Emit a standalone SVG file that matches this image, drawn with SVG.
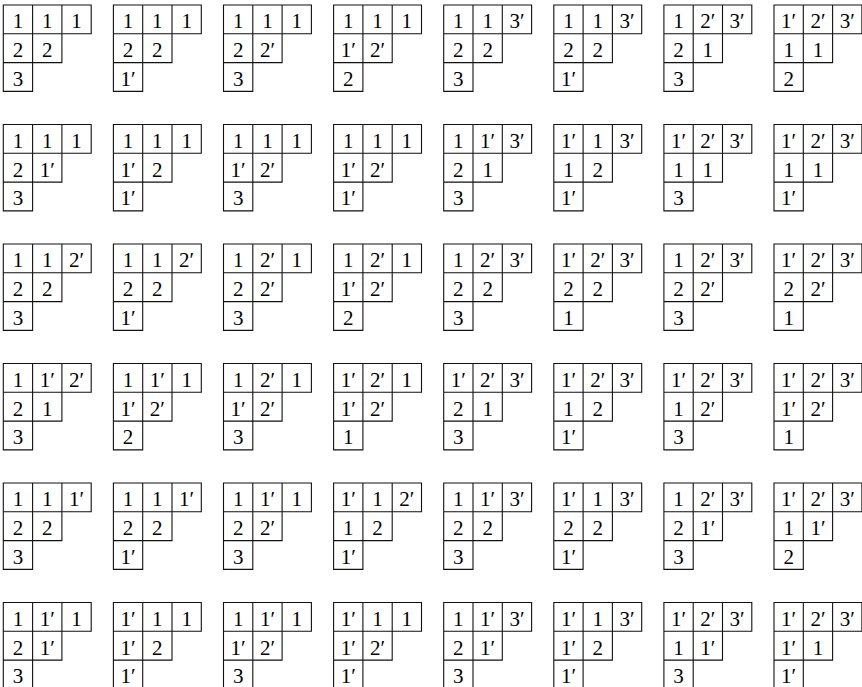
<svg xmlns="http://www.w3.org/2000/svg" xmlns:xlink="http://www.w3.org/1999/xlink" width="862" height="687" viewBox="0 0 862 687">
<style>
.tab text{font-family:'Liberation Serif','DejaVu Serif',serif;font-size:21px;text-anchor:middle;fill:#000}
.fr{fill:none;stroke:#111;stroke-width:1.1}
</style>
<defs>
<path id="frame" class="fr" d="M0,0H87.9V28.8H58.6V57.6H29.3V86.4H0Z M29.3,0V86.4 M58.6,0V28.8 M0,28.8H58.6 M0,57.6H29.3"/>
</defs>
<rect width="862" height="687" fill="#fff"/>
<g font-family="Liberation Serif, DejaVu Serif, serif" font-size="21">
<g id="r1c1" class="tab" transform="translate(3.3,5)"><use href="#frame"/><text x="14.65" y="23.3">1</text><text x="43.95" y="23.3">1</text><text x="73.25" y="23.3">1</text><text x="14.65" y="52.1">2</text><text x="43.95" y="52.1">2</text><text x="14.65" y="80.9">3</text></g>
<g id="r1c2" class="tab" transform="translate(113.4,5)"><use href="#frame"/><text x="14.65" y="23.3">1</text><text x="43.95" y="23.3">1</text><text x="73.25" y="23.3">1</text><text x="14.65" y="52.1">2</text><text x="43.95" y="52.1">2</text><text x="14.65" y="80.9">1′</text></g>
<g id="r1c3" class="tab" transform="translate(223.5,5)"><use href="#frame"/><text x="14.65" y="23.3">1</text><text x="43.95" y="23.3">1</text><text x="73.25" y="23.3">1</text><text x="14.65" y="52.1">2</text><text x="43.95" y="52.1">2′</text><text x="14.65" y="80.9">3</text></g>
<g id="r1c4" class="tab" transform="translate(333.6,5)"><use href="#frame"/><text x="14.65" y="23.3">1</text><text x="43.95" y="23.3">1</text><text x="73.25" y="23.3">1</text><text x="14.65" y="52.1">1′</text><text x="43.95" y="52.1">2′</text><text x="14.65" y="80.9">2</text></g>
<g id="r1c5" class="tab" transform="translate(443.7,5)"><use href="#frame"/><text x="14.65" y="23.3">1</text><text x="43.95" y="23.3">1</text><text x="73.25" y="23.3">3′</text><text x="14.65" y="52.1">2</text><text x="43.95" y="52.1">2</text><text x="14.65" y="80.9">3</text></g>
<g id="r1c6" class="tab" transform="translate(553.8,5)"><use href="#frame"/><text x="14.65" y="23.3">1</text><text x="43.95" y="23.3">1</text><text x="73.25" y="23.3">3′</text><text x="14.65" y="52.1">2</text><text x="43.95" y="52.1">2</text><text x="14.65" y="80.9">1′</text></g>
<g id="r1c7" class="tab" transform="translate(663.9,5)"><use href="#frame"/><text x="14.65" y="23.3">1</text><text x="43.95" y="23.3">2′</text><text x="73.25" y="23.3">3′</text><text x="14.65" y="52.1">2</text><text x="43.95" y="52.1">1</text><text x="14.65" y="80.9">3</text></g>
<g id="r1c8" class="tab" transform="translate(774,5)"><use href="#frame"/><text x="14.65" y="23.3">1′</text><text x="43.95" y="23.3">2′</text><text x="73.25" y="23.3">3′</text><text x="14.65" y="52.1">1</text><text x="43.95" y="52.1">1</text><text x="14.65" y="80.9">2</text></g>

<g id="r2c1" class="tab" transform="translate(3.3,124.5)"><use href="#frame"/><text x="14.65" y="23.3">1</text><text x="43.95" y="23.3">1</text><text x="73.25" y="23.3">1</text><text x="14.65" y="52.1">2</text><text x="43.95" y="52.1">1′</text><text x="14.65" y="80.9">3</text></g>
<g id="r2c2" class="tab" transform="translate(113.4,124.5)"><use href="#frame"/><text x="14.65" y="23.3">1</text><text x="43.95" y="23.3">1</text><text x="73.25" y="23.3">1</text><text x="14.65" y="52.1">1′</text><text x="43.95" y="52.1">2</text><text x="14.65" y="80.9">1′</text></g>
<g id="r2c3" class="tab" transform="translate(223.5,124.5)"><use href="#frame"/><text x="14.65" y="23.3">1</text><text x="43.95" y="23.3">1</text><text x="73.25" y="23.3">1</text><text x="14.65" y="52.1">1′</text><text x="43.95" y="52.1">2′</text><text x="14.65" y="80.9">3</text></g>
<g id="r2c4" class="tab" transform="translate(333.6,124.5)"><use href="#frame"/><text x="14.65" y="23.3">1</text><text x="43.95" y="23.3">1</text><text x="73.25" y="23.3">1</text><text x="14.65" y="52.1">1′</text><text x="43.95" y="52.1">2′</text><text x="14.65" y="80.9">1′</text></g>
<g id="r2c5" class="tab" transform="translate(443.7,124.5)"><use href="#frame"/><text x="14.65" y="23.3">1</text><text x="43.95" y="23.3">1′</text><text x="73.25" y="23.3">3′</text><text x="14.65" y="52.1">2</text><text x="43.95" y="52.1">1</text><text x="14.65" y="80.9">3</text></g>
<g id="r2c6" class="tab" transform="translate(553.8,124.5)"><use href="#frame"/><text x="14.65" y="23.3">1′</text><text x="43.95" y="23.3">1</text><text x="73.25" y="23.3">3′</text><text x="14.65" y="52.1">1</text><text x="43.95" y="52.1">2</text><text x="14.65" y="80.9">1′</text></g>
<g id="r2c7" class="tab" transform="translate(663.9,124.5)"><use href="#frame"/><text x="14.65" y="23.3">1′</text><text x="43.95" y="23.3">2′</text><text x="73.25" y="23.3">3′</text><text x="14.65" y="52.1">1</text><text x="43.95" y="52.1">1</text><text x="14.65" y="80.9">3</text></g>
<g id="r2c8" class="tab" transform="translate(774,124.5)"><use href="#frame"/><text x="14.65" y="23.3">1′</text><text x="43.95" y="23.3">2′</text><text x="73.25" y="23.3">3′</text><text x="14.65" y="52.1">1</text><text x="43.95" y="52.1">1</text><text x="14.65" y="80.9">1′</text></g>

<g id="r3c1" class="tab" transform="translate(3.3,244)"><use href="#frame"/><text x="14.65" y="23.3">1</text><text x="43.95" y="23.3">1</text><text x="73.25" y="23.3">2′</text><text x="14.65" y="52.1">2</text><text x="43.95" y="52.1">2</text><text x="14.65" y="80.9">3</text></g>
<g id="r3c2" class="tab" transform="translate(113.4,244)"><use href="#frame"/><text x="14.65" y="23.3">1</text><text x="43.95" y="23.3">1</text><text x="73.25" y="23.3">2′</text><text x="14.65" y="52.1">2</text><text x="43.95" y="52.1">2</text><text x="14.65" y="80.9">1′</text></g>
<g id="r3c3" class="tab" transform="translate(223.5,244)"><use href="#frame"/><text x="14.65" y="23.3">1</text><text x="43.95" y="23.3">2′</text><text x="73.25" y="23.3">1</text><text x="14.65" y="52.1">2</text><text x="43.95" y="52.1">2′</text><text x="14.65" y="80.9">3</text></g>
<g id="r3c4" class="tab" transform="translate(333.6,244)"><use href="#frame"/><text x="14.65" y="23.3">1</text><text x="43.95" y="23.3">2′</text><text x="73.25" y="23.3">1</text><text x="14.65" y="52.1">1′</text><text x="43.95" y="52.1">2′</text><text x="14.65" y="80.9">2</text></g>
<g id="r3c5" class="tab" transform="translate(443.7,244)"><use href="#frame"/><text x="14.65" y="23.3">1</text><text x="43.95" y="23.3">2′</text><text x="73.25" y="23.3">3′</text><text x="14.65" y="52.1">2</text><text x="43.95" y="52.1">2</text><text x="14.65" y="80.9">3</text></g>
<g id="r3c6" class="tab" transform="translate(553.8,244)"><use href="#frame"/><text x="14.65" y="23.3">1′</text><text x="43.95" y="23.3">2′</text><text x="73.25" y="23.3">3′</text><text x="14.65" y="52.1">2</text><text x="43.95" y="52.1">2</text><text x="14.65" y="80.9">1</text></g>
<g id="r3c7" class="tab" transform="translate(663.9,244)"><use href="#frame"/><text x="14.65" y="23.3">1</text><text x="43.95" y="23.3">2′</text><text x="73.25" y="23.3">3′</text><text x="14.65" y="52.1">2</text><text x="43.95" y="52.1">2′</text><text x="14.65" y="80.9">3</text></g>
<g id="r3c8" class="tab" transform="translate(774,244)"><use href="#frame"/><text x="14.65" y="23.3">1′</text><text x="43.95" y="23.3">2′</text><text x="73.25" y="23.3">3′</text><text x="14.65" y="52.1">2</text><text x="43.95" y="52.1">2′</text><text x="14.65" y="80.9">1</text></g>

<g id="r4c1" class="tab" transform="translate(3.3,363.5)"><use href="#frame"/><text x="14.65" y="23.3">1</text><text x="43.95" y="23.3">1′</text><text x="73.25" y="23.3">2′</text><text x="14.65" y="52.1">2</text><text x="43.95" y="52.1">1</text><text x="14.65" y="80.9">3</text></g>
<g id="r4c2" class="tab" transform="translate(113.4,363.5)"><use href="#frame"/><text x="14.65" y="23.3">1</text><text x="43.95" y="23.3">1′</text><text x="73.25" y="23.3">1</text><text x="14.65" y="52.1">1′</text><text x="43.95" y="52.1">2′</text><text x="14.65" y="80.9">2</text></g>
<g id="r4c3" class="tab" transform="translate(223.5,363.5)"><use href="#frame"/><text x="14.65" y="23.3">1</text><text x="43.95" y="23.3">2′</text><text x="73.25" y="23.3">1</text><text x="14.65" y="52.1">1′</text><text x="43.95" y="52.1">2′</text><text x="14.65" y="80.9">3</text></g>
<g id="r4c4" class="tab" transform="translate(333.6,363.5)"><use href="#frame"/><text x="14.65" y="23.3">1′</text><text x="43.95" y="23.3">2′</text><text x="73.25" y="23.3">1</text><text x="14.65" y="52.1">1′</text><text x="43.95" y="52.1">2′</text><text x="14.65" y="80.9">1</text></g>
<g id="r4c5" class="tab" transform="translate(443.7,363.5)"><use href="#frame"/><text x="14.65" y="23.3">1′</text><text x="43.95" y="23.3">2′</text><text x="73.25" y="23.3">3′</text><text x="14.65" y="52.1">2</text><text x="43.95" y="52.1">1</text><text x="14.65" y="80.9">3</text></g>
<g id="r4c6" class="tab" transform="translate(553.8,363.5)"><use href="#frame"/><text x="14.65" y="23.3">1′</text><text x="43.95" y="23.3">2′</text><text x="73.25" y="23.3">3′</text><text x="14.65" y="52.1">1</text><text x="43.95" y="52.1">2</text><text x="14.65" y="80.9">1′</text></g>
<g id="r4c7" class="tab" transform="translate(663.9,363.5)"><use href="#frame"/><text x="14.65" y="23.3">1′</text><text x="43.95" y="23.3">2′</text><text x="73.25" y="23.3">3′</text><text x="14.65" y="52.1">1</text><text x="43.95" y="52.1">2′</text><text x="14.65" y="80.9">3</text></g>
<g id="r4c8" class="tab" transform="translate(774,363.5)"><use href="#frame"/><text x="14.65" y="23.3">1′</text><text x="43.95" y="23.3">2′</text><text x="73.25" y="23.3">3′</text><text x="14.65" y="52.1">1′</text><text x="43.95" y="52.1">2′</text><text x="14.65" y="80.9">1</text></g>

<g id="r5c1" class="tab" transform="translate(3.3,483)"><use href="#frame"/><text x="14.65" y="23.3">1</text><text x="43.95" y="23.3">1</text><text x="73.25" y="23.3">1′</text><text x="14.65" y="52.1">2</text><text x="43.95" y="52.1">2</text><text x="14.65" y="80.9">3</text></g>
<g id="r5c2" class="tab" transform="translate(113.4,483)"><use href="#frame"/><text x="14.65" y="23.3">1</text><text x="43.95" y="23.3">1</text><text x="73.25" y="23.3">1′</text><text x="14.65" y="52.1">2</text><text x="43.95" y="52.1">2</text><text x="14.65" y="80.9">1′</text></g>
<g id="r5c3" class="tab" transform="translate(223.5,483)"><use href="#frame"/><text x="14.65" y="23.3">1</text><text x="43.95" y="23.3">1′</text><text x="73.25" y="23.3">1</text><text x="14.65" y="52.1">2</text><text x="43.95" y="52.1">2′</text><text x="14.65" y="80.9">3</text></g>
<g id="r5c4" class="tab" transform="translate(333.6,483)"><use href="#frame"/><text x="14.65" y="23.3">1′</text><text x="43.95" y="23.3">1</text><text x="73.25" y="23.3">2′</text><text x="14.65" y="52.1">1</text><text x="43.95" y="52.1">2</text><text x="14.65" y="80.9">1′</text></g>
<g id="r5c5" class="tab" transform="translate(443.7,483)"><use href="#frame"/><text x="14.65" y="23.3">1</text><text x="43.95" y="23.3">1′</text><text x="73.25" y="23.3">3′</text><text x="14.65" y="52.1">2</text><text x="43.95" y="52.1">2</text><text x="14.65" y="80.9">3</text></g>
<g id="r5c6" class="tab" transform="translate(553.8,483)"><use href="#frame"/><text x="14.65" y="23.3">1′</text><text x="43.95" y="23.3">1</text><text x="73.25" y="23.3">3′</text><text x="14.65" y="52.1">2</text><text x="43.95" y="52.1">2</text><text x="14.65" y="80.9">1′</text></g>
<g id="r5c7" class="tab" transform="translate(663.9,483)"><use href="#frame"/><text x="14.65" y="23.3">1</text><text x="43.95" y="23.3">2′</text><text x="73.25" y="23.3">3′</text><text x="14.65" y="52.1">2</text><text x="43.95" y="52.1">1′</text><text x="14.65" y="80.9">3</text></g>
<g id="r5c8" class="tab" transform="translate(774,483)"><use href="#frame"/><text x="14.65" y="23.3">1′</text><text x="43.95" y="23.3">2′</text><text x="73.25" y="23.3">3′</text><text x="14.65" y="52.1">1</text><text x="43.95" y="52.1">1′</text><text x="14.65" y="80.9">2</text></g>

<g id="r6c1" class="tab" transform="translate(3.3,602.5)"><use href="#frame"/><text x="14.65" y="23.3">1</text><text x="43.95" y="23.3">1′</text><text x="73.25" y="23.3">1</text><text x="14.65" y="52.1">2</text><text x="43.95" y="52.1">1′</text><text x="14.65" y="80.9">3</text></g>
<g id="r6c2" class="tab" transform="translate(113.4,602.5)"><use href="#frame"/><text x="14.65" y="23.3">1′</text><text x="43.95" y="23.3">1</text><text x="73.25" y="23.3">1</text><text x="14.65" y="52.1">1′</text><text x="43.95" y="52.1">2</text><text x="14.65" y="80.9">1′</text></g>
<g id="r6c3" class="tab" transform="translate(223.5,602.5)"><use href="#frame"/><text x="14.65" y="23.3">1</text><text x="43.95" y="23.3">1′</text><text x="73.25" y="23.3">1</text><text x="14.65" y="52.1">1′</text><text x="43.95" y="52.1">2′</text><text x="14.65" y="80.9">3</text></g>
<g id="r6c4" class="tab" transform="translate(333.6,602.5)"><use href="#frame"/><text x="14.65" y="23.3">1′</text><text x="43.95" y="23.3">1</text><text x="73.25" y="23.3">1</text><text x="14.65" y="52.1">1′</text><text x="43.95" y="52.1">2′</text><text x="14.65" y="80.9">1′</text></g>
<g id="r6c5" class="tab" transform="translate(443.7,602.5)"><use href="#frame"/><text x="14.65" y="23.3">1</text><text x="43.95" y="23.3">1′</text><text x="73.25" y="23.3">3′</text><text x="14.65" y="52.1">2</text><text x="43.95" y="52.1">1′</text><text x="14.65" y="80.9">3</text></g>
<g id="r6c6" class="tab" transform="translate(553.8,602.5)"><use href="#frame"/><text x="14.65" y="23.3">1′</text><text x="43.95" y="23.3">1</text><text x="73.25" y="23.3">3′</text><text x="14.65" y="52.1">1′</text><text x="43.95" y="52.1">2</text><text x="14.65" y="80.9">1′</text></g>
<g id="r6c7" class="tab" transform="translate(663.9,602.5)"><use href="#frame"/><text x="14.65" y="23.3">1′</text><text x="43.95" y="23.3">2′</text><text x="73.25" y="23.3">3′</text><text x="14.65" y="52.1">1</text><text x="43.95" y="52.1">1′</text><text x="14.65" y="80.9">3</text></g>
<g id="r6c8" class="tab" transform="translate(774,602.5)"><use href="#frame"/><text x="14.65" y="23.3">1′</text><text x="43.95" y="23.3">2′</text><text x="73.25" y="23.3">3′</text><text x="14.65" y="52.1">1′</text><text x="43.95" y="52.1">1</text><text x="14.65" y="80.9">1′</text></g>
</g>
</svg>
